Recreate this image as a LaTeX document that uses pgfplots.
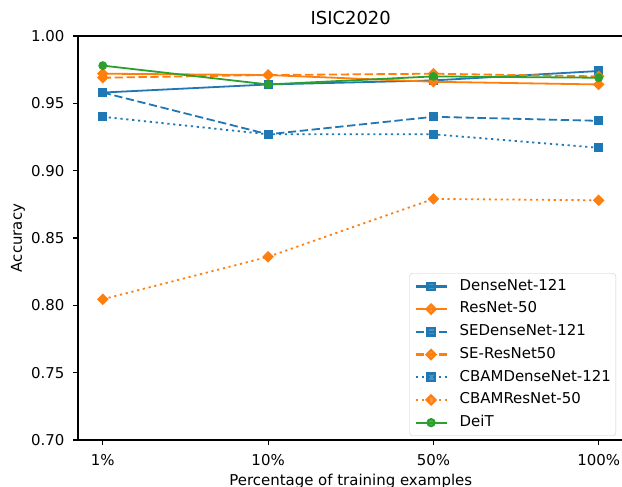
\documentclass[border=0pt]{standalone}
\usepackage{fontspec}
\setmainfont{DejaVu Sans}
\usepackage{pgfplots}
\pgfplotsset{compat=1.18}
\definecolor{tabblue}{HTML}{1F77B4}
\definecolor{taborange}{HTML}{FF7F0E}
\definecolor{tabgreen}{HTML}{2CA02C}
\tikzset{
  mdash/.style={dash pattern=on 8.3bp off 3.6bp},
  mdot/.style={dash pattern=on 2.2bp off 3.7bp},
}
\begin{document}
\begin{tikzpicture}[x=1bp,y=1bp]
\clip (0,0) rectangle (622,487);
\begin{axis}[
  at={(78bp,47bp)}, anchor=south west,
  scale only axis, width=545.5bp, height=404bp,
  xmin=-0.15, xmax=3.15, ymin=0.70, ymax=1.00,
  xtick={0,1,2,3}, xticklabels={1\%,10\%,50\%,100\%},
  ytick={0.70,0.75,0.80,0.85,0.90,0.95,1.00},
  /pgf/number format/assume math mode=true,
  tick align=outside, tick pos=left,
  major tick length=5bp,
  every tick/.style={black, line width=1.2bp},
  axis line style={line width=1.2bp},
  ticklabel style={font=\fontsize{15}{18}\selectfont},
  xticklabel style={yshift=-6bp},
  yticklabel style={xshift=-5bp, /pgf/number format/.cd, fixed, fixed zerofill, precision=2},
  label style={font=\fontsize{15}{18}\selectfont},
  xlabel style={yshift=-1bp},
  ylabel style={yshift=-0.5bp},
  title={ISIC2020},
  title style={font=\fontsize{18}{21}\selectfont, yshift=1.5bp},
  xlabel={Percentage of training examples},
  ylabel={Accuracy},
  clip=false,
  every axis plot/.append style={line width=1.8bp},
  legend cell align=left,
  legend image code/.code={\draw[line width=2.2bp, mark repeat=2,mark phase=2] plot coordinates {(0bp,0bp) (15.5bp,0bp) (31bp,0bp)};},
  legend style={at={(axis description cs:1,0)}, anchor=south east,
    xshift=-7.5bp, yshift=4bp,
    draw=black!20, rounded corners=3bp,
    fill=white, fill opacity=0.8, text opacity=1, draw opacity=1,
    font=\fontsize{15}{18}\selectfont,
    inner xsep=5bp, inner ysep=6bp,
    column sep=12bp, row sep=8.4bp,
    nodes={inner sep=0pt, text height=11bp, text depth=3.3bp}},
]
\addplot[tabblue, mark=square*, mark size=3.7bp, mark options={solid}]
  coordinates {(0,0.958) (1,0.964) (2,0.967) (3,0.974)};
\addlegendentry{DenseNet-121}
\addplot[taborange, mark=square*, mark size=3.2bp, mark options={solid, rotate=45}]
  coordinates {(0,0.972) (1,0.971) (2,0.966) (3,0.964)};
\addlegendentry{ResNet-50}
\addplot[tabblue, mdash, mark=square*, mark size=3.7bp, mark options={solid}]
  coordinates {(0,0.958) (1,0.927) (2,0.940) (3,0.937)};
\addlegendentry{SEDenseNet-121}
\addplot[taborange, mdash, mark=square*, mark size=3.2bp, mark options={solid, rotate=45}]
  coordinates {(0,0.969) (1,0.971) (2,0.972) (3,0.970)};
\addlegendentry{SE-ResNet50}
\addplot[tabblue, mdot, mark=square*, mark size=3.7bp, mark options={solid}]
  coordinates {(0,0.940) (1,0.927) (2,0.927) (3,0.917)};
\addlegendentry{CBAMDenseNet-121}
\addplot[taborange, mdot, mark=square*, mark size=3.2bp, mark options={solid, rotate=45}]
  coordinates {(0,0.8045) (1,0.836) (2,0.879) (3,0.878)};
\addlegendentry{CBAMResNet-50}
\addplot[tabgreen, mark=*, mark size=3.5bp, mark options={solid}]
  coordinates {(0,0.978) (1,0.964) (2,0.970) (3,0.969)};
\addlegendentry{DeiT}
\end{axis}
\end{tikzpicture}
\end{document}
